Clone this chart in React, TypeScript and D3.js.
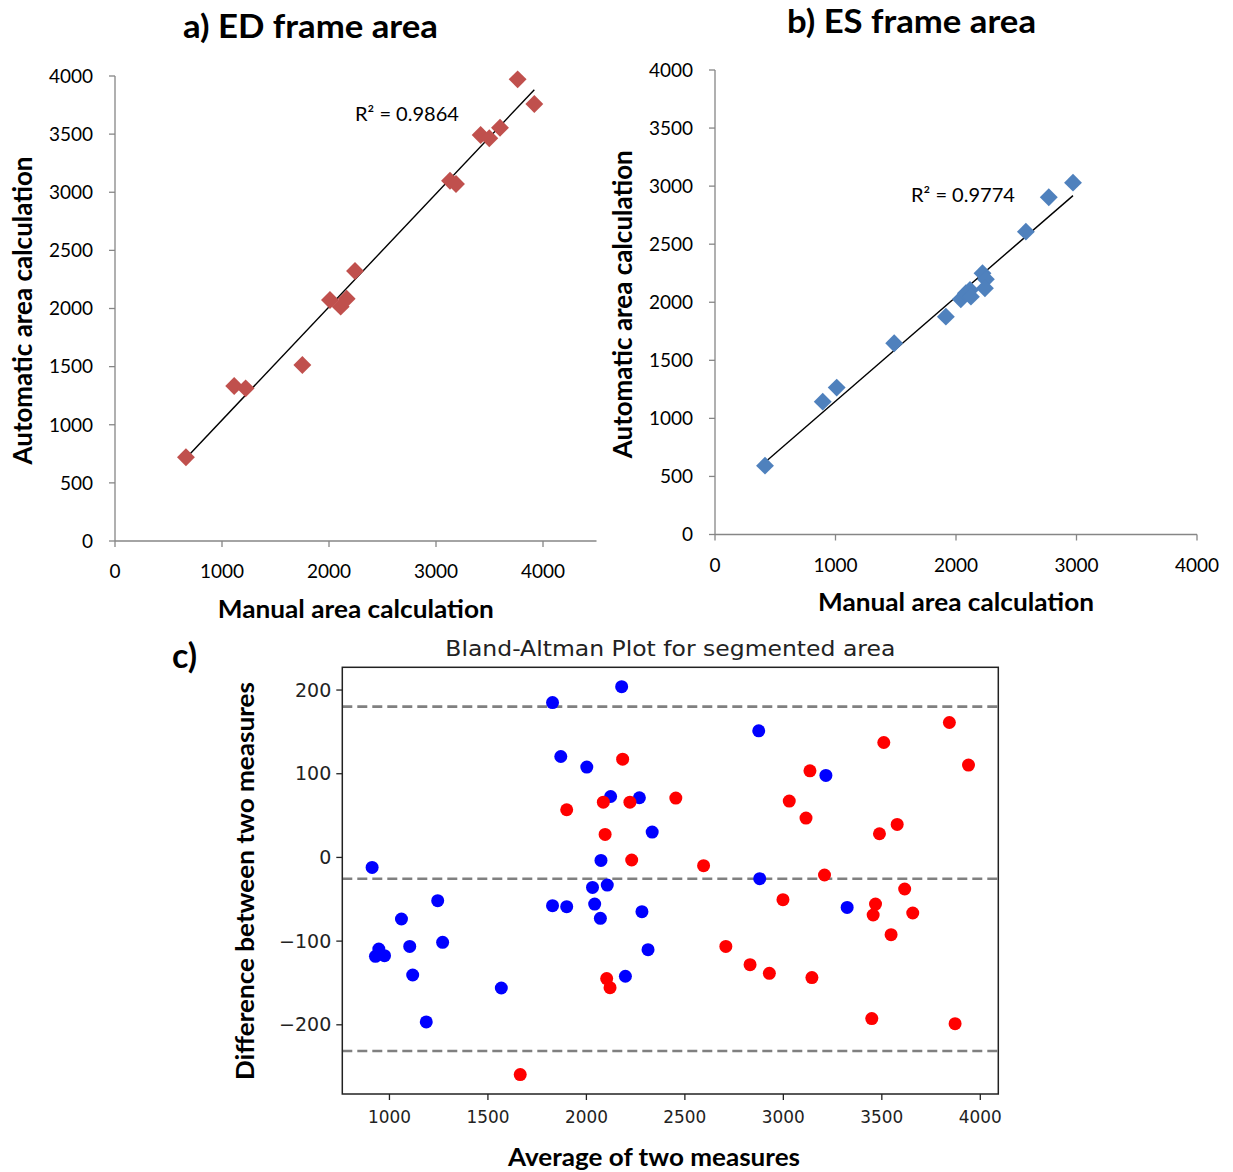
import React from 'react';
import * as d3 from 'd3';

// a) ED frame area: manual vs automatic
const edManual = [663, 1114, 1221, 1751, 2009, 2109, 2165, 2243, 3131, 3187, 3417, 3498, 3598, 3763, 3919];
const edAuto = [720, 1333, 1313, 1514, 2073, 2016, 2084, 2323, 3099, 3071, 3492, 3464, 3555, 3971, 3759];

// b) ES frame area
const esManual = [415, 894, 1010, 1487, 1916, 2040, 2082, 2116, 2124, 2220, 2248, 2240, 2580, 2770, 2971];
const esAuto = [593, 1144, 1265, 1647, 1876, 2026, 2078, 2106, 2048, 2250, 2198, 2121, 2608, 2904, 3030];

// c) Bland-Altman, blue series
const blueAvg = [1828, 2179, 1870, 2002, 2123, 2269, 2334, 2074, 912, 2031, 2106, 1828, 1900, 2042, 2071, 2282,
  1245, 1061, 1103, 1270, 946, 929, 975, 1118, 2313, 2198, 1568, 1187, 2875, 3216, 2880, 3324];
const blueDiff = [185, 204, 120.6, 107.9, 72.8, 71.3, 30.3, -3.6, -11.9, -35.8, -33, -57.7, -58.9, -55.7, -72.8, -64.8,
  -51.7, -73.6, -106.3, -101.5, -109.4, -118.2, -117.4, -140.5, -110.2, -142, -156, -196.6, 151.3, 98, -25.4, -59.7];

// c) Bland-Altman, red series
const redAvg = [2184, 1900, 2086, 2221, 2095, 2230, 2103, 2120, 1664, 2454, 2595, 2708, 2831, 2929, 2998, 3030,
  3115, 3135, 3209, 3145, 3510, 3488, 3578, 3468, 3456, 3616, 3657, 3547, 3449, 3843, 3940, 3872];
const redDiff = [117.4, 57, 66, 66, 27.5, -3.1, -144.8, -155.6, -259.5, 70.9, -9.9, -106.3, -128.1, -138.5, -50.5, 67.3,
  47, 103.5, -21, -143.6, 137.3, 28.3, 39.4, -55.7, -68.8, -37.7, -66.4, -92.3, -192.6, 161.2, 110.3, -198.6];

const scatterTicks = [0, 500, 1000, 1500, 2000, 2500, 3000, 3500, 4000];
const manualTicks = [0, 1000, 2000, 3000, 4000];
const baXTicks = [1000, 1500, 2000, 2500, 3000, 3500, 4000];
const baYTicks = [200, 100, 0, -100, -200];

const calibri = 'Lato, "Open Sans", sans-serif';
const dejavu = '"DejaVu Sans", sans-serif';
const axisGray = '#868686';

function fitLine(xs: number[], ys: number[]) {
  const mx = d3.mean(xs)!;
  const my = d3.mean(ys)!;
  let num = 0;
  let den = 0;
  xs.forEach((x, i) => {
    num += (x - mx) * (ys[i] - my);
    den += (x - mx) * (x - mx);
  });
  const slope = num / den;
  return (x: number) => my + slope * (x - mx);
}

const diamond = d3.symbol(d3.symbolSquare, 160)();

type ScatterProps = {
  xs: number[];
  ys: number[];
  xMax: number;
  xRange: [number, number];
  yRange: [number, number];
  color: string;
  r2: string;
  r2Pos: [number, number];
  tickBaseline: number;
  yLabelX: number;
  xLabelY: number;
  title: string;
  titlePos: [number, number];
  titleWidth: number;
};

function Scatter(p: ScatterProps) {
  const x = d3.scaleLinear().domain([0, p.xMax]).range(p.xRange);
  const y = d3.scaleLinear().domain([0, 4000]).range(p.yRange);
  const fit = fitLine(p.xs, p.ys);
  const [x0, x1] = d3.extent(p.xs) as [number, number];
  const left = p.xRange[0];
  const bottom = p.yRange[0];
  return (
    <g>
      <text x={p.titlePos[0]} y={p.titlePos[1]} fontFamily={calibri} fontWeight="bold" fontSize={32}
        textLength={p.titleWidth} lengthAdjust="spacingAndGlyphs">{p.title}</text>
      <line x1={left} x2={left} y1={bottom} y2={y(4000)} stroke={axisGray} strokeWidth={1.3} />
      <line x1={left} x2={p.xRange[1]} y1={bottom} y2={bottom} stroke={axisGray} strokeWidth={1.3} />
      {scatterTicks.map(t => (
        <g key={'y' + t}>
          <line x1={left - 6} x2={left} y1={y(t)} y2={y(t)} stroke={axisGray} strokeWidth={1.3} />
          <text x={left - 22} y={y(t)} dy="0.36em" textAnchor="end" fontFamily={calibri} fontSize={19}>{t}</text>
        </g>
      ))}
      {manualTicks.map(t => (
        <g key={'x' + t}>
          <line x1={x(t)} x2={x(t)} y1={bottom} y2={bottom + 6} stroke={axisGray} strokeWidth={1.3} />
          <text x={x(t)} y={p.tickBaseline} textAnchor="middle" fontFamily={calibri} fontSize={19}>{t}</text>
        </g>
      ))}
      <line x1={x(x0)} y1={y(fit(x0))} x2={x(x1)} y2={y(fit(x1))} stroke="#000" strokeWidth={1.4} />
      {p.xs.map((v, i) => (
        <path key={i} d={diamond} transform={`translate(${x(v)},${y(p.ys[i])}) rotate(45)`} fill={p.color} />
      ))}
      <text x={p.r2Pos[0]} y={p.r2Pos[1]} fontFamily={calibri} fontSize={19} textLength={104}
        lengthAdjust="spacingAndGlyphs">R² = {p.r2}</text>
      <text transform={`translate(${p.yLabelX},${(p.yRange[0] + p.yRange[1]) / 2 + 2}) rotate(-90)`}
        textAnchor="middle" fontFamily={calibri} fontWeight="bold" fontSize={26}
        textLength={308} lengthAdjust="spacingAndGlyphs">Automatic area calculation</text>
      <text x={(p.xRange[0] + p.xRange[1]) / 2} y={p.xLabelY} textAnchor="middle"
        fontFamily={calibri} fontWeight="bold" fontSize={25}
        textLength={276} lengthAdjust="spacingAndGlyphs">Manual area calculation</text>
    </g>
  );
}

function BlandAltman() {
  const allAvg = blueAvg.concat(redAvg);
  const allDiff = blueDiff.concat(redDiff);
  const [ax0, ax1] = d3.extent(allAvg) as [number, number];
  const [dy0, dy1] = d3.extent(allDiff) as [number, number];
  const padX = (ax1 - ax0) * 0.05;
  const padY = (dy1 - dy0) * 0.05;
  const x = d3.scaleLinear().domain([ax0 - padX, ax1 + padX]).range([342.3, 998.3]);
  const y = d3.scaleLinear().domain([dy0 - padY, dy1 + padY]).range([1094, 667.3]);
  const md = d3.mean(allDiff)!;
  const sd = Math.sqrt(d3.mean(allDiff, d => (d - md) * (d - md))!);
  const limits = [md + 1.96 * sd, md, md - 1.96 * sd];
  const [l, r] = x.range();
  const [b, t] = y.range();
  return (
    <g>
      <text x={172} y={668} fontFamily={calibri} fontWeight="bold" fontSize={34}>c)</text>
      <text x={(l + r) / 2} y={656} textAnchor="middle" fontFamily={dejavu} fontSize={22} fill="#222"
        textLength={450} lengthAdjust="spacingAndGlyphs">Bland-Altman Plot for segmented area</text>
      {limits.map((v, i) => (
        <line key={i} x1={l} x2={r} y1={y(v)} y2={y(v)} stroke="#808080" strokeWidth={2.6} strokeDasharray="10,5" />
      ))}
      {blueAvg.map((v, i) => (
        <circle key={'b' + i} cx={x(v)} cy={y(blueDiff[i])} r={6.5} fill="#0000ff" />
      ))}
      {redAvg.map((v, i) => (
        <circle key={'r' + i} cx={x(v)} cy={y(redDiff[i])} r={6.5} fill="#ff0000" />
      ))}
      <rect x={l} y={t} width={r - l} height={b - t} fill="none" stroke="#222" strokeWidth={1.5} />
      {baYTicks.map(v => (
        <g key={'y' + v}>
          <line x1={l - 6} x2={l} y1={y(v)} y2={y(v)} stroke="#222" strokeWidth={1.3} />
          <text x={l - 11} y={y(v)} dy="0.35em" textAnchor="end" fontFamily={dejavu} fontSize={19} fill="#222">
            {v < 0 ? '\u2212' + Math.abs(v) : v}
          </text>
        </g>
      ))}
      {baXTicks.map(v => (
        <g key={'x' + v}>
          <line x1={x(v)} x2={x(v)} y1={b} y2={b + 6} stroke="#222" strokeWidth={1.3} />
          <text x={x(v)} y={1123} textAnchor="middle" fontFamily={dejavu} fontSize={18} fill="#222"
            textLength={43} lengthAdjust="spacingAndGlyphs">{v}</text>
        </g>
      ))}
      <text transform={`translate(254,881) rotate(-90)`} textAnchor="middle" fontFamily={calibri}
        fontWeight="bold" fontSize={25} textLength={398} lengthAdjust="spacingAndGlyphs">Difference between two measures</text>
      <text x={654} y={1166} textAnchor="middle" fontFamily={calibri} fontWeight="bold" fontSize={25}
        textLength={292} lengthAdjust="spacingAndGlyphs">Average of two measures</text>
    </g>
  );
}

export default function App() {
  return (
    <svg width={1233} height={1172} style={{ position: 'absolute', left: 0, top: 0, background: '#fff' }}>
      <rect width={1233} height={1172} fill="#fff" />
      <Scatter xs={edManual} ys={edAuto} xMax={4500} xRange={[115, 596.5]} yRange={[541, 76]} color="#c0504d"
        r2="0.9864" r2Pos={[355, 121]} tickBaseline={578} yLabelX={32} xLabelY={618}
        title="a) ED frame area" titlePos={[183, 38]} titleWidth={255} />
      <Scatter xs={esManual} ys={esAuto} xMax={4000} xRange={[715, 1197]} yRange={[534.5, 70]} color="#4f81bd"
        r2="0.9774" r2Pos={[911, 202]} tickBaseline={572} yLabelX={632} xLabelY={611}
        title="b) ES frame area" titlePos={[787, 33]} titleWidth={249} />
      <BlandAltman />
    </svg>
  );
}
